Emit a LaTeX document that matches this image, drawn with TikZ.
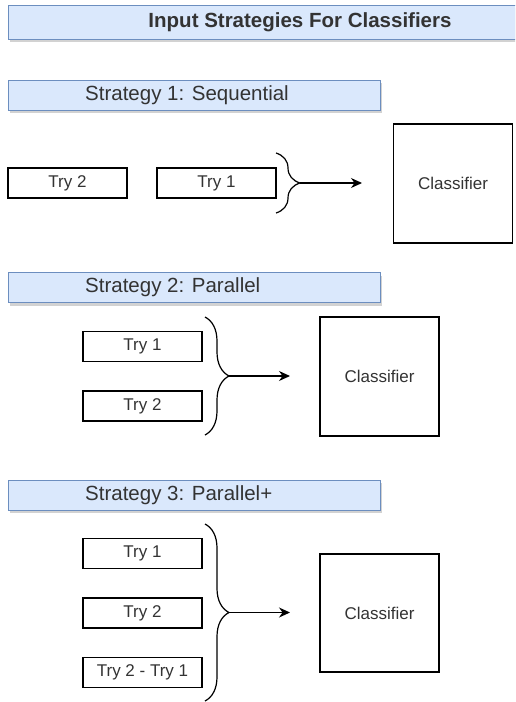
\documentclass[tikz,border=0pt]{standalone}
\usepackage{fontspec}
\setmainfont{Liberation Sans}
\usepackage{tikz}
\usetikzlibrary{arrows.meta,decorations.pathreplacing,shadows}
\definecolor{barfill}{HTML}{DAE8FC}
\definecolor{barline}{HTML}{6C8EBF}
\definecolor{ink}{HTML}{333333}
\tikzset{
  bar/.style={draw=barline, line width=1pt, fill=barfill, inner sep=0pt,
    drop shadow={shadow xshift=2pt, shadow yshift=-3pt, opacity=0.35}},
  trybox/.style={draw=black, line width=1.2pt, fill=white, minimum width=119pt,
    minimum height=30pt, inner sep=0pt, text=ink, font=\fontsize{17}{20}\selectfont},
  clsbox/.style={draw=black, line width=1.2pt, fill=white, minimum width=119pt,
    minimum height=119pt, inner sep=0pt, text=ink, font=\fontsize{17}{20}\selectfont},
  headlab/.style={text=ink, inner sep=0pt, anchor=west, font=\fontsize{20.5}{24}\selectfont},
  bracket/.style={draw=black, line width=1.2pt,
    decorate, decoration={brace, amplitude=24pt}},
  feed/.style={draw=black, line width=1.2pt, -{Stealth[length=11pt,width=10pt]}}
}
\begin{document}
\begin{tikzpicture}[x=1pt, y=-1pt]
  \clip (0,0) rectangle (515,702);
  \fill[white] (0,0) rectangle (515,702);

  % title
  \node[bar, minimum width=520pt, minimum height=34pt] (topbar) at (268,22) {};
  \node[text=ink, inner sep=0pt, font=\bfseries\fontsize{20.5}{24}\selectfont] (title) at (300,22)
    {Input Strategies For Classifiers};

  % strategy 1
  \node[bar, minimum width=372pt, minimum height=30pt] (bar1) at (194,95) {};
  \node[headlab] (head1) at (85,95) {Strategy 1: Sequential};
  \node[trybox] (s1try2) at (67.5,183) {Try 2};
  \node[trybox] (s1try1) at (216.5,183) {Try 1};
  \node[clsbox] (s1cls) at (453,183.5) {Classifier};
  \coordinate (b1top) at (276,153);
  \coordinate (b1bot) at (276,213);
  \coordinate (b1tip) at (300,183);
  \coordinate (a1end) at (362,183);
  \draw[bracket] (b1top) -- (b1bot);
  \draw[feed] (b1tip) -- (a1end);

  % strategy 2
  \node[bar, minimum width=372pt, minimum height=30pt] (bar2) at (194,287.5) {};
  \node[headlab] (head2) at (85,287.5) {Strategy 2: Parallel};
  \node[trybox] (s2try1) at (142.5,346.5) {Try 1};
  \node[trybox] (s2try2) at (142.5,406) {Try 2};
  \node[clsbox] (s2cls) at (379.5,376.5) {Classifier};
  \coordinate (b2top) at (205,317);
  \coordinate (b2bot) at (205,435);
  \coordinate (b2tip) at (229,376);
  \coordinate (a2end) at (290,376);
  \draw[bracket] (b2top) -- (b2bot);
  \draw[feed] (b2tip) -- (a2end);

  % strategy 3
  \node[bar, minimum width=372pt, minimum height=30pt] (bar3) at (194,495) {};
  \node[headlab] (head3) at (85,495) {Strategy 3: Parallel+};
  \node[trybox] (s3try1) at (142.5,553.5) {Try 1};
  \node[trybox] (s3try2) at (142.5,613) {Try 2};
  \node[trybox] (s3diff) at (142.5,672.5) {Try 2 - Try 1};
  \node[clsbox, minimum height=118pt] (s3cls) at (379.5,613) {Classifier};
  \coordinate (b3top) at (205,524);
  \coordinate (b3bot) at (205,701);
  \coordinate (b3tip) at (229,612.5);
  \coordinate (a3end) at (290,612.5);
  \draw[bracket] (b3top) -- (b3bot);
  \draw[feed] (b3tip) -- (a3end);
\end{tikzpicture}
\end{document}
